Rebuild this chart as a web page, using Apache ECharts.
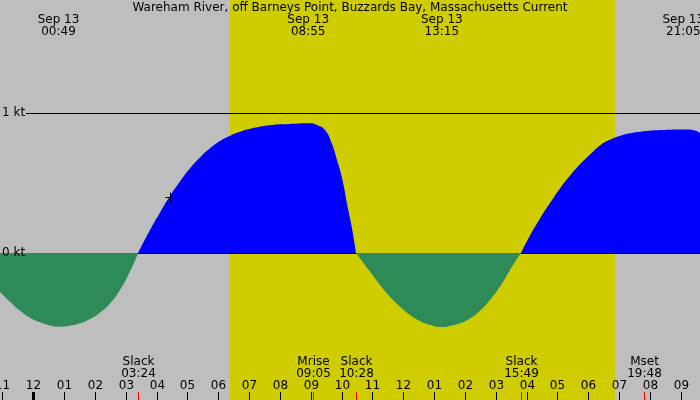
<!DOCTYPE html>
<html>
<head>
<meta charset="utf-8">
<script src="https://cdn.jsdelivr.net/npm/echarts@6/dist/echarts.min.js"></script>
<style>
html,body{margin:0;padding:0;background:#bebebe;}
#chart{width:700px;height:400px;}
</style>
</head>
<body>
<div id="chart"></div>
<script>
var titleText = 'Wareham River, off Barneys Point, Buzzards Bay, Massachusetts Current';

// time in hours from midnight Sep 13, current in knots (+ flood, - ebb)
var hours = [-1.080, -0.756, -0.431, -0.107, 0.217, 0.542, 0.811, 1.190, 1.515, 1.839, 2.163, 2.488, 2.812, 3.136, 3.400,
	3.785, 4.111, 4.435, 4.759, 5.083, 5.408, 5.732, 6.057, 6.381, 6.706, 7.030, 7.355, 7.680, 8.004, 8.328, 8.653, 8.977,
	9.192, 9.461, 9.679, 9.841, 10.004, 10.218, 10.338, 10.467,
	10.921, 11.245, 11.570, 11.894, 12.218, 12.543, 12.867, 13.247, 13.516, 13.840, 14.165, 14.489, 14.814, 15.138, 15.462, 15.817,
	16.122, 16.446, 16.770, 17.095, 17.419, 17.743, 18.068, 18.392, 18.716, 19.041, 19.365, 19.689, 20.338, 21.194, 21.463, 21.625];
var speeds = [-0.276, -0.348, -0.412, -0.462, -0.495, -0.517, -0.526, -0.519, -0.502, -0.471, -0.426, -0.36, -0.264, -0.133, 0,
	0.164, 0.29, 0.407, 0.51, 0.605, 0.683, 0.748, 0.80, 0.838, 0.866, 0.887, 0.902, 0.912, 0.919, 0.922, 0.925, 0.926,
	0.914, 0.879, 0.784, 0.672, 0.545, 0.307, 0.175, 0,
	-0.133, -0.229, -0.312, -0.383, -0.443, -0.486, -0.514, -0.529, -0.521, -0.502, -0.467, -0.412, -0.336, -0.24, -0.121, 0,
	0.129, 0.25, 0.36, 0.465, 0.555, 0.635, 0.705, 0.77, 0.81, 0.838, 0.855, 0.866, 0.878, 0.883, 0.875, 0.857];

var hourTicks = [-1, 0, 1, 2, 3, 4, 5, 6, 7, 8, 9, 10, 11, 12, 13, 14, 15, 16, 17, 18, 19, 20, 21];
var hourLabels = ['11', '12', '01', '02', '03', '04', '05', '06', '07', '08', '09', '10', '11',
	'12', '01', '02', '03', '04', '05', '06', '07', '08', '09'];

var topTimes = [0.817, 8.917, 13.25, 21.083];
var topDates = ['Sep 13', 'Sep 13', 'Sep 13', 'Sep 13'];
var topLabels = ['00:49', '08:55', '13:15', '21:05'];

var eventTimes = [3.4, 9.083, 10.467, 15.817, 19.8];
var eventNames = ['Slack', 'Mrise', 'Slack', 'Slack', 'Mset'];
var eventLabels = ['03:24', '09:05', '10:28', '15:49', '19:48'];

var daylight = [6.38, 18.87];
var levels = [1, 0];
var levelLabels = ['1 kt', '0 kt'];
var nowPoint = [4.435, 0.40];

var xMin = -1.080, xMax = 21.625;
var yMin = -1.05, yMax = 1.8071;
var font = '12px "DejaVu Sans"';

var flood = [], ebb = [];
for (var i = 0; i < hours.length; i++) {
	flood.push([hours[i], speeds[i] >= 0 ? speeds[i] : '-']);
	ebb.push([hours[i], speeds[i] <= 0 ? speeds[i] : '-']);
}

function px(v){
	return Math.round(v) + 0.5;
}

var myChart = echarts.init(document.getElementById('chart'));

var option = {
	backgroundColor: '#bebebe',
	animation: false,
	title: {
		text: titleText,
		left: 'center',
		top: 2,
		padding: 0,
		textStyle: {fontFamily: 'DejaVu Sans', fontSize: 12, fontWeight: 'normal', color: '#000'}
	},
	grid: {left: 0, right: 0, top: 0, bottom: 0},
	xAxis: {
		type: 'value', min: xMin, max: xMax,
		axisLine: {show: false}, axisTick: {show: false}, axisLabel: {show: false}, splitLine: {show: false}
	},
	yAxis: {
		type: 'value', min: yMin, max: yMax,
		axisLine: {show: false}, axisTick: {show: false}, axisLabel: {show: false}, splitLine: {show: false}
	},
	series: [
		{
			// daylight band
			type: 'custom', z: 0, silent: true,
			data: [[daylight[0], daylight[1]]],
			renderItem: function(params, api){
				var cs = params.coordSys;
				var a = Math.round(api.coord([api.value(0), 0])[0]);
				var b = Math.round(api.coord([api.value(1), 0])[0]);
				return {type: 'rect', shape: {x: a, y: cs.y, width: b - a, height: cs.height},
					style: {fill: '#cfcc00'}};
			}
		},
		{
			name: 'flood', type: 'line', z: 2, smooth: 0.5, showSymbol: false, silent: true,
			data: flood,
			lineStyle: {width: 0},
			areaStyle: {color: '#0000ff', opacity: 1}
		},
		{
			// level lines
			type: 'custom', z: 3, silent: true,
			data: levels.map(function(v, i){ return [0, v, i]; }),
			renderItem: function(params, api){
				var cs = params.coordSys;
				var y = px(api.coord([0, api.value(1)])[1]);
				return {type: 'line', shape: {x1: cs.x + 26, y1: y, x2: cs.x + cs.width, y2: y}, style: {stroke: '#000', lineWidth: 1}};
			}
		},
		{
			name: 'ebb', type: 'line', z: 4, smooth: 0.5, showSymbol: false, silent: true,
			data: ebb,
			lineStyle: {width: 0},
			areaStyle: {color: '#2e8b57', opacity: 1}
		},
		{
			// level labels
			type: 'custom', z: 5, silent: true,
			data: levels.map(function(v, i){ return [0, v, i]; }),
			renderItem: function(params, api){
				var cs = params.coordSys;
				var y = api.coord([0, api.value(1)])[1];
				return {type: 'text', style: {text: levelLabels[api.value(2)], x: cs.x + 2, y: y, align: 'left', verticalAlign: 'middle', font: font, fill: '#000'}};
			}
		},
		{
			// hour ticks and labels
			type: 'custom', z: 5, silent: true,
			data: hourTicks.map(function(h, i){ return [h, 0, i]; }),
			renderItem: function(params, api){
				var cs = params.coordSys;
				var h = api.value(0);
				var x = px(api.coord([h, 0])[0]);
				var bottom = cs.y + cs.height;
				return {type: 'group', children: [
					{type: 'line', shape: {x1: x, y1: bottom - 8, x2: x, y2: bottom}, style: {stroke: '#000', lineWidth: h === 0 ? 3 : 1}},
					{type: 'text', style: {text: hourLabels[api.value(2)], x: x, y: bottom - 14, align: 'center', verticalAlign: 'middle', font: font, fill: '#000'}}
				]};
			}
		},
		{
			// slack / moon events
			type: 'custom', z: 6, silent: true,
			data: eventTimes.map(function(h, i){ return [h, 0, i]; }),
			renderItem: function(params, api){
				var cs = params.coordSys;
				var x = px(api.coord([api.value(0), 0])[0]);
				var bottom = cs.y + cs.height;
				var i = api.value(2);
				return {type: 'group', children: [
					{type: 'line', shape: {x1: x, y1: bottom - 8, x2: x, y2: bottom}, style: {stroke: '#ff0000', lineWidth: 1}},
					{type: 'text', style: {text: eventNames[i] + '\n' + eventLabels[i], x: x, y: bottom - 32, align: 'center', verticalAlign: 'middle',
						font: font, lineHeight: 12, fill: '#000'}}
				]};
			}
		},
		{
			// max current times at top
			type: 'custom', z: 6, silent: true,
			data: topTimes.map(function(h, i){ return [h, 0, i]; }),
			renderItem: function(params, api){
				var cs = params.coordSys;
				var x = api.coord([api.value(0), 0])[0];
				var i = api.value(2);
				return {type: 'text', style: {text: topDates[i] + '\n' + topLabels[i], x: x, y: cs.y + 26, align: 'center', verticalAlign: 'middle',
					font: font, lineHeight: 12, fill: '#000'}};
			}
		},
		{
			// current time marker
			type: 'custom', z: 7, silent: true,
			data: [nowPoint],
			renderItem: function(params, api){
				var p = api.coord([api.value(0), api.value(1)]);
				var x = px(p[0]), y = px(p[1]);
				return {type: 'group', children: [
					{type: 'line', shape: {x1: x - 5, y1: y, x2: x + 5, y2: y}, style: {stroke: '#000', lineWidth: 1}},
					{type: 'line', shape: {x1: x, y1: y - 5, x2: x, y2: y + 5}, style: {stroke: '#000', lineWidth: 1}}
				]};
			}
		}
	]
};
myChart.setOption(option);
</script>
</body>
</html>
